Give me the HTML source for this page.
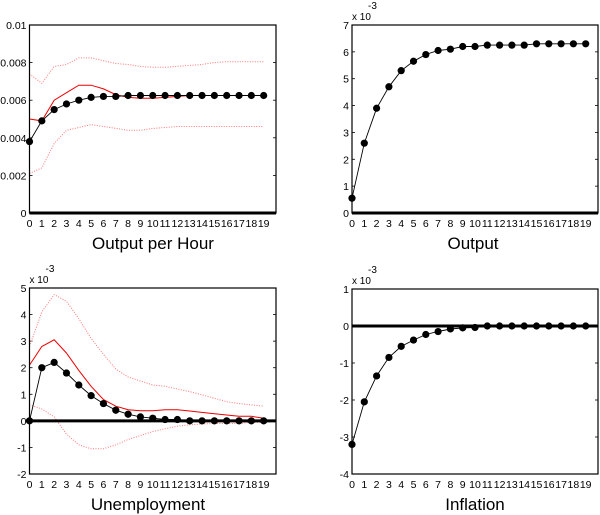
<!DOCTYPE html>
<html><head><meta charset="utf-8"><style>
body{margin:0;background:#fff}
svg{display:block;font-family:"Liberation Sans",sans-serif}
</style></head><body>
<svg id="fig" width="600" height="515" viewBox="0 0 600 515"></svg>
<script>
const steps=[0,1,2,3,4,5,6,7,8,9,10,11,12,13,14,15,16,17,18,19];
const ophBlack=[3.8,4.9,5.5,5.8,6.0,6.15,6.2,6.2,6.25,6.25,6.25,6.25,6.25,6.25,6.25,6.25,6.25,6.25,6.25,6.25];
const ophRed=[5.0,4.9,6.0,6.4,6.8,6.8,6.6,6.3,6.15,6.1,6.1,6.15,6.2,6.25,6.25,6.25,6.25,6.25,6.25,6.25];
const ophUpper=[7.4,6.9,7.8,7.9,8.25,8.25,8.1,7.95,7.9,7.8,7.75,7.75,7.8,7.85,7.9,8.0,8.05,8.05,8.05,8.05];
const ophLower=[2.1,2.4,3.7,4.4,4.55,4.7,4.6,4.5,4.4,4.4,4.5,4.55,4.6,4.6,4.6,4.6,4.6,4.6,4.6,4.6];
const outBlack=[0.55,2.6,3.9,4.7,5.3,5.65,5.9,6.05,6.1,6.2,6.2,6.25,6.25,6.25,6.25,6.3,6.3,6.3,6.3,6.3];
const unBlack=[0,2.0,2.2,1.8,1.35,0.95,0.65,0.4,0.25,0.15,0.1,0.05,0.05,0,0,0,0,0,0,0];
const unRed=[2.1,2.8,3.05,2.55,1.9,1.3,0.8,0.55,0.42,0.38,0.38,0.42,0.42,0.37,0.32,0.27,0.22,0.17,0.17,0.1];
const unUpper=[2.8,4.1,4.75,4.5,3.85,3.1,2.5,1.95,1.65,1.5,1.35,1.3,1.2,1.1,0.98,0.85,0.72,0.65,0.6,0.55];
const unLower=[0.6,0.45,0.15,-0.5,-0.9,-1.05,-1.05,-0.9,-0.7,-0.55,-0.4,-0.3,-0.2,-0.15,-0.12,-0.1,-0.1,-0.1,-0.05,-0.05];
const infBlack=[-3.2,-2.05,-1.35,-0.85,-0.55,-0.38,-0.23,-0.15,-0.08,-0.05,-0.04,0,0,0,0,0,0,0,0,0];
const ophTicks=["0","0.002","0.004","0.006","0.008","0.01"];
const outTicks=["0","1","2","3","4","5","6","7"];
const unTicks=["-2","-1","0","1","2","3","4","5"];
const infTicks=["-4","-3","-2","-1","0","1"];

const NS="http://www.w3.org/2000/svg";
const svg=document.getElementById('fig');
function mk(tag,attrs,parent){const e=document.createElementNS(NS,tag);for(const k in attrs)e.setAttribute(k,attrs[k]);(parent||svg).appendChild(e);return e;}

function panel(p){
  const g=mk('g',{});
  
  
  const sx=v=>p.x0+(v/20)*(p.x1-p.x0);
  const sy=v=>p.y1-(v-p.ymin)/(p.ymax-p.ymin)*(p.y1-p.y0);
  const path=arr=>arr.map((v,i)=>(i?'L':'M')+sx(steps[i]).toFixed(1)+' '+sy(v).toFixed(1)).join(' ');
  const nT=p.ticks.length;
  for(let i=0;i<nT;i++){
    const v=p.ymin+i*(p.ymax-p.ymin)/(nT-1);const y=sy(v);
    const t=mk('text',{x:p.x0-3,y:y+4,'font-size':10.5,'text-anchor':'end',fill:'#000'},g);t.textContent=p.ticks[i];
    
    mk('line',{x1:p.x0,x2:p.x0+3,y1:y,y2:y,stroke:'#000','stroke-width':0.8},g);
    mk('line',{x1:p.x1-3,x2:p.x1,y1:y,y2:y,stroke:'#000','stroke-width':0.8},g);
  }
  steps.forEach(s=>{
    const t=mk('text',{x:sx(s),y:p.y1+14,'font-size':10.5,'text-anchor':'middle',fill:'#000'},g);t.textContent=s;
    
  });
  if(p.upper){
    [p.upper,p.lower].forEach(a=>{const l=mk('path',{d:path(a),fill:'none',stroke:'#f77','stroke-width':1,'stroke-dasharray':'1 1.5'},g);
      });
  }
  if(p.red){const l=mk('path',{d:path(p.red),fill:'none',stroke:'#e00','stroke-width':1},g);
    }
  const zl=mk('line',{x1:p.x0,x2:p.x1,y1:sy(0),y2:sy(0),stroke:'#000','stroke-width':3},g);
  
  const bl=mk('path',{d:path(p.black),fill:'none',stroke:'#000','stroke-width':0.9},g);
  
  p.black.forEach((v,i)=>{const c=mk('circle',{cx:sx(steps[i]),cy:sy(v),r:3.6,fill:'#000'},g);
    });
  const fr=mk('rect',{x:p.x0,y:p.y0,width:p.x1-p.x0,height:p.y1-p.y0,fill:'none',stroke:'#000','stroke-width':1.2},g);
  
  const tt=mk('text',{x:p.tx,y:p.ty,'font-size':17,'text-anchor':'middle',fill:'#000'},g);tt.textContent=p.title;
  
  if(p.exp){
    const e1=mk('text',{x:p.x0,y:p.y0-5,'font-size':10,fill:'#000'},g);e1.textContent='x 10';
    
    const e2=mk('text',{x:p.x0+16,y:p.y0-16,'font-size':10,fill:'#000'},g);e2.textContent='-3';
    
  }
}
panel({name:'output-per-hour-panel',x0:29.5,x1:276,y0:25,y1:213,ymin:0,ymax:10,ticks:ophTicks,
  black:ophBlack,red:ophRed,upper:ophUpper,lower:ophLower,title:'Output per Hour',tx:153,ty:249});
panel({name:'output-panel',x0:352,x1:598,y0:25,y1:213,ymin:0,ymax:7,ticks:outTicks,
  black:outBlack,title:'Output',tx:473,ty:249,exp:true});
panel({name:'unemployment-panel',x0:29.5,x1:276,y0:288,y1:474,ymin:-2,ymax:5,ticks:unTicks,
  black:unBlack,red:unRed,upper:unUpper,lower:unLower,title:'Unemployment',tx:148,ty:510,exp:true});
panel({name:'inflation-panel',x0:352,x1:598,y0:289,y1:474,ymin:-4,ymax:1,ticks:infTicks,
  black:infBlack,title:'Inflation',tx:475,ty:510,exp:true});
</script>
</body></html>
